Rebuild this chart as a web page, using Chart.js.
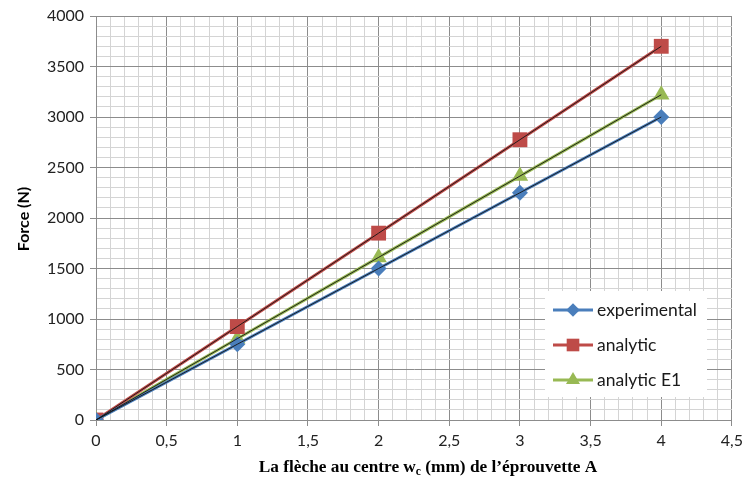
<!DOCTYPE html>
<html>
<head>
    <title>Force - flèche</title>
    <script src="https://cdn.jsdelivr.net/npm/chart.js"></script>
    <style>
        body { margin: 0; padding: 0; background: white; }
    </style>
</head>
<body>
    <canvas id="forceChart" width="748" height="485"></canvas>

    <script>
        // données
        const fleche = [0, 1, 2, 3, 4];
        const experimental = [0, 750, 1500, 2250, 3000];
        const analytic = [0, 925, 1850, 2775, 3700];
        const analyticE1 = [0, 805, 1610, 2415, 3220];
        const seriesNames = ['experimental', 'analytic', 'analytic E1'];

        const toPts = arr => arr.map((y, i) => ({ x: fleche[i], y: y }));
        const isMajor = (v, step) => Math.abs(v / step - Math.round(v / step)) < 1e-6;

        function serie(label, data, color, style, radius) {
            return {
                label: label, data: toPts(data), borderColor: color, backgroundColor: color,
                borderWidth: 3, pointStyle: style, pointRadius: radius, pointHoverRadius: radius,
                pointBorderWidth: 0, tension: 0, order: 1
            };
        }
        // courbes de tendance (trait noir fin)
        function tendance(data) {
            return {
                label: '', data: toPts(data), borderColor: 'rgba(20,20,20,0.9)', borderWidth: 1,
                pointRadius: 0, tension: 0, order: 0, trend: true
            };
        }

        // légende et titres dessinés à la main (indice c)
        const customDraw = {
            id: 'customDraw',
            afterDatasetsDraw(chart) {
                const c = chart.ctx;
                c.save();
                // légende
                const bx = 545, by = 291, bw = 162, bh = 106;
                c.fillStyle = '#fff';
                c.fillRect(bx, by, bw, bh);
                const sets = chart.data.datasets.filter(d => !d.trend);
                sets.forEach((d, i) => {
                    const y = by + 19 + i * 35;
                    c.strokeStyle = d.borderColor;
                    c.lineWidth = 3;
                    c.beginPath(); c.moveTo(553, y); c.lineTo(593, y); c.stroke();
                    c.fillStyle = d.borderColor;
                    c.strokeStyle = d.borderColor;
                    Chart.helpers.drawPoint(c, { pointStyle: d.pointStyle, radius: d.pointRadius * 0.85, borderWidth: 0 }, 573, y);
                    c.fillStyle = '#1a1a1a';
                    c.font = '17.5px Lato';
                    c.textBaseline = 'middle';
                    c.textAlign = 'left';
                    c.fillText(d.label, 597, y);
                });
                c.restore();
            },
            afterDraw(chart) {
                const c = chart.ctx;
                c.save();
                c.fillStyle = '#000';
                c.textBaseline = 'alphabetic';
                // titre axe Y
                c.font = 'bold 16px Lato';
                c.translate(29, 219);
                c.rotate(-Math.PI / 2);
                c.textAlign = 'center';
                c.fillText('Force (N)', 0, 0);
                c.setTransform(1, 0, 0, 1, 0, 0);
                // titre axe X avec indice
                const p1 = 'La flèche au centre w', sub = 'c', p2 = ' (mm) de l\u2019éprouvette A';
                const fMain = 'bold 17.3px "Liberation Serif"', fSub = 'bold 11.5px "Liberation Serif"';
                c.font = fMain; const w1 = c.measureText(p1).width, w3 = c.measureText(p2).width;
                c.font = fSub; const w2 = c.measureText(sub).width;
                let x = 428 - (w1 + w2 + w3) / 2;
                const y = 472;
                c.textAlign = 'left';
                c.font = fMain; c.fillText(p1, x, y); x += w1;
                c.font = fSub; c.fillText(sub, x, y + 3); x += w2;
                c.font = fMain; c.fillText(p2, x, y);
                c.restore();
            }
        };

        const ctx = document.getElementById('forceChart').getContext('2d');
        const chart = new Chart(ctx, {
            type: 'line',
            data: {
                datasets: [
                    serie(seriesNames[0], experimental, '#4a7ebb', 'rectRot', 8),
                    serie(seriesNames[1], analytic, '#be4b48', 'rect', 10.5),
                    serie(seriesNames[2], analyticE1, '#98b954', 'triangle', 9.5),
                    tendance(experimental),
                    tendance(analytic),
                    tendance(analyticE1)
                ]
            },
            options: {
                responsive: false,
                animation: false,
                layout: { padding: { top: 16, right: 14, left: 0, bottom: 0 } },
                scales: {
                    x: {
                        type: 'linear', min: 0, max: 4.5,
                        afterFit(scale) { scale.height = 65; },
                        ticks: {
                            stepSize: 0.1, autoSkip: false, maxRotation: 0,
                            color: '#222', font: { family: 'Lato', size: 16 }, padding: 5,
                            callback: v => isMajor(v, 0.5) ? String(Math.round(v * 10) / 10).replace('.', ',') : ''
                        },
                        grid: {
                            color: c => isMajor(c.tick.value, 0.5) ? '#8c8c8c' : '#d4d4d4',
                            tickColor: c => isMajor(c.tick.value, 0.5) ? '#8c8c8c' : 'rgba(0,0,0,0)',
                            tickLength: 6, lineWidth: 1
                        },
                        border: { color: '#8c8c8c' }
                    },
                    y: {
                        min: 0, max: 4000,
                        afterFit(scale) { scale.width = 96; },
                        ticks: {
                            stepSize: 100, autoSkip: false,
                            color: '#222', font: { family: 'Lato', size: 16 }, padding: 6,
                            callback: v => isMajor(v, 500) ? String(v) : ''
                        },
                        grid: {
                            color: c => isMajor(c.tick.value, 500) ? '#8c8c8c' : '#d4d4d4',
                            tickColor: c => isMajor(c.tick.value, 500) ? '#8c8c8c' : 'rgba(0,0,0,0)',
                            tickLength: 6, lineWidth: 1
                        },
                        border: { color: '#8c8c8c' }
                    }
                },
                plugins: {
                    legend: { display: false },
                    tooltip: { enabled: false }
                }
            },
            plugins: [customDraw]
        });
    </script>
</body>
</html>
